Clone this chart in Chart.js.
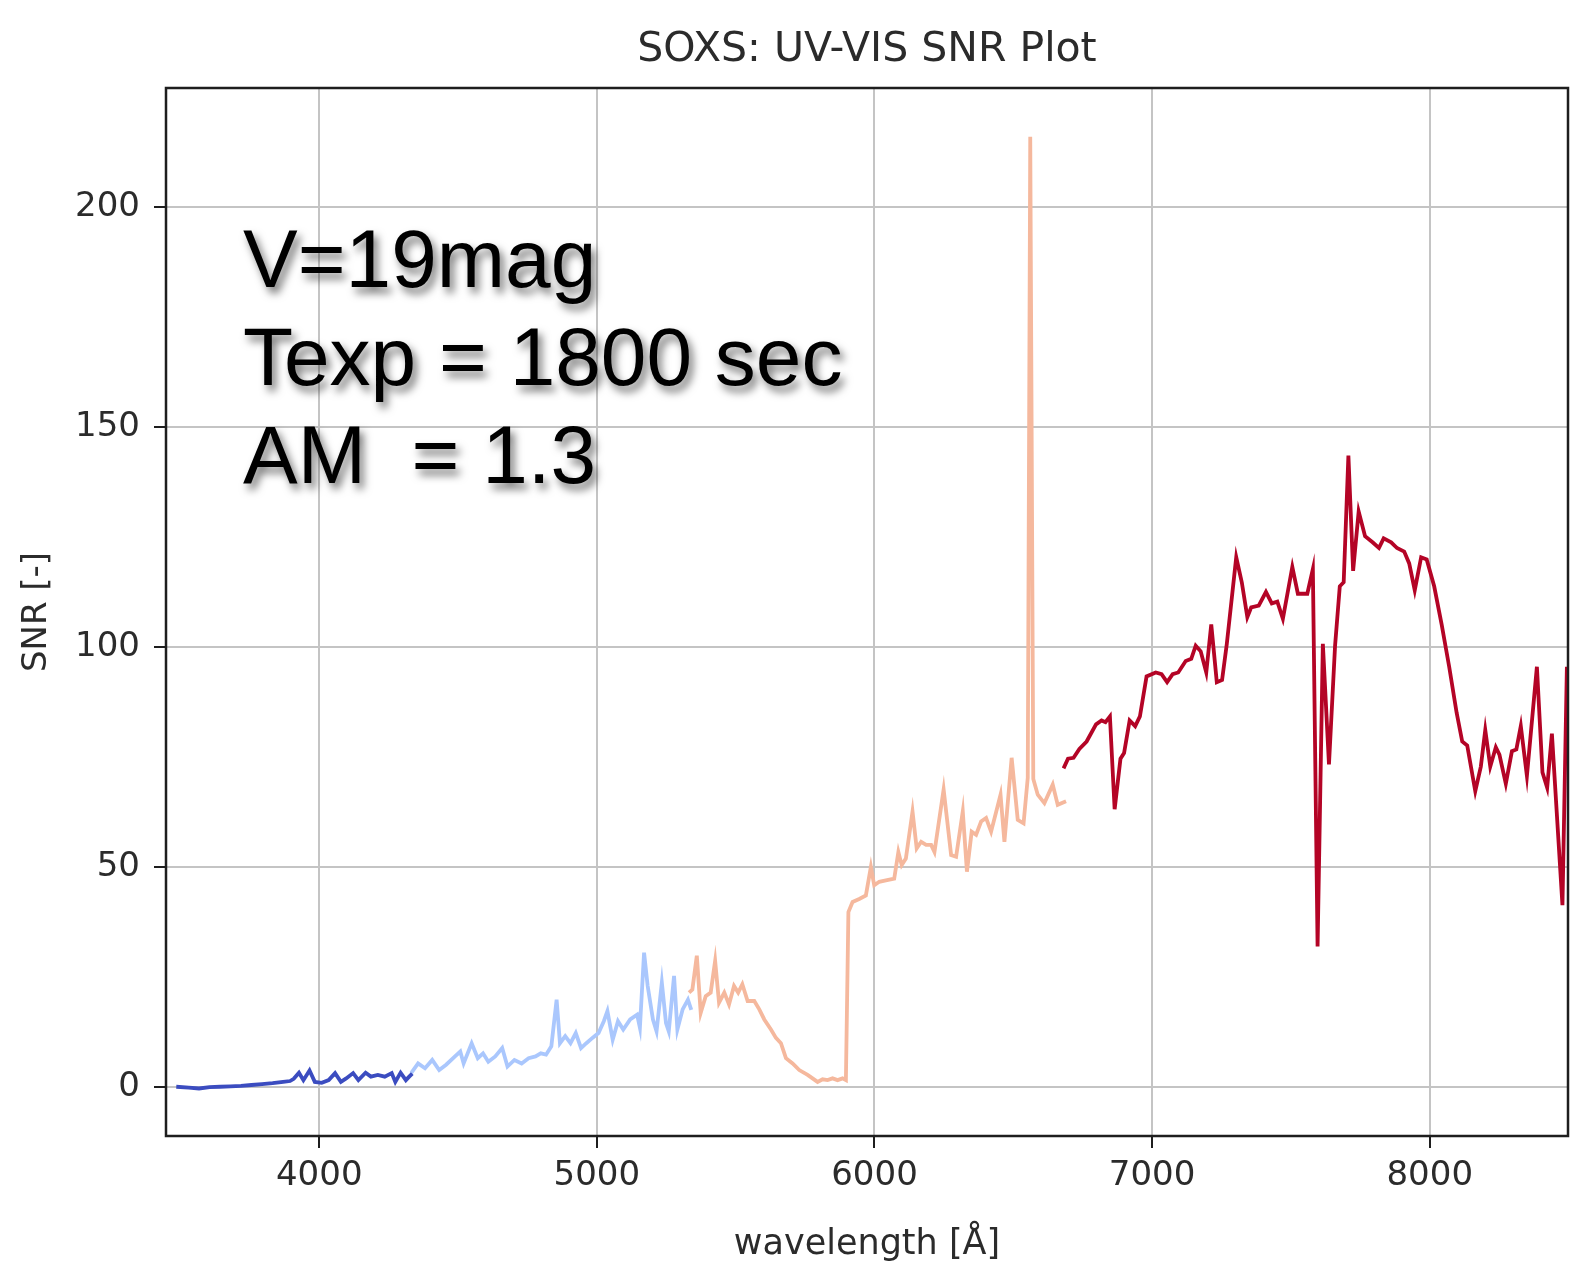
<!DOCTYPE html>
<html>
<head>
<meta charset="utf-8">
<title>SOXS: UV-VIS SNR Plot</title>
<script src="https://cdn.jsdelivr.net/npm/chart.js@4.4.1/dist/chart.umd.min.js"></script>
<style>
  html, body { margin: 0; padding: 0; background: #fff; }
</style>
</head>
<body>
<canvas id="graficoSnr" width="1588" height="1269"></canvas>
<script>
// Tramo azul oscuro (UV)
const wlAzul = [3485, 3530, 3567, 3605, 3643, 3680, 3718, 3756, 3794, 3832, 3870, 3895, 3908, 3927, 3943, 3965, 3984, 4009, 4034, 4057, 4078, 4097, 4122, 4141, 4167, 4186, 4211, 4236, 4261, 4274, 4293, 4312, 4324, 4335];
const snrAzul = [0, -0.2, -0.4, -0.1, 0, 0.1, 0.2, 0.4, 0.6, 0.8, 1.1, 1.3, 1.8, 3.2, 1.5, 3.7, 1.1, 0.9, 1.5, 3.1, 1.1, 1.9, 3.1, 1.5, 3.2, 2.3, 2.7, 2.3, 3.1, 1.1, 3.2, 1.5, 2.3, 3.0];

// Tramo azul claro
const wlCeleste = [4331, 4356, 4381, 4407, 4432, 4457, 4489, 4508, 4520, 4549, 4571, 4590, 4609, 4634, 4659, 4678, 4703, 4729, 4754, 4779, 4798, 4817, 4836, 4855, 4867, 4886, 4905, 4924, 4943, 4962, 4984, 5006, 5025, 5038, 5057, 5076, 5095, 5120, 5145, 5155, 5170, 5183, 5202, 5215, 5234, 5249, 5259, 5278, 5290, 5309, 5328, 5340];
const snrCeleste = [3.1, 5.3, 4.2, 6.1, 3.8, 5.0, 6.9, 8.0, 5.3, 9.9, 6.5, 7.6, 5.7, 6.9, 8.8, 4.6, 6.1, 5.3, 6.5, 6.9, 7.6, 7.3, 9.2, 19.8, 9.9, 11.5, 9.9, 12.2, 8.8, 9.9, 11.1, 12.2, 14.9, 17.2, 10.7, 14.9, 13.0, 15.3, 16.4, 13.4, 30.5, 22.9, 15.3, 12.6, 23.7, 14.5, 12.6, 25.2, 13.0, 17.6, 19.8, 17.5];

// Tramo salmón (VIS azul)
const wlSalmon = [5332, 5344, 5360, 5374, 5392, 5410, 5426, 5440, 5459, 5476, 5494, 5509, 5524, 5543, 5567, 5585, 5603, 5627, 5645, 5663, 5681, 5705, 5729, 5759, 5795, 5813, 5831, 5849, 5867, 5885, 5897, 5906, 5921, 5945, 5969, 5987, 5999, 6017, 6041, 6071, 6086, 6098, 6113, 6137, 6152, 6168, 6186, 6204, 6216, 6249, 6276, 6294, 6318, 6333, 6350, 6366, 6384, 6402, 6420, 6454, 6468, 6494, 6516, 6537, 6552, 6561, 6572, 6588, 6612, 6642, 6660, 6690];
const snrSalmon = [21.4, 22.1, 29.8, 16.8, 20.6, 21.4, 28.6, 19.1, 21.4, 18.7, 22.9, 21.4, 23.3, 19.5, 19.5, 17.6, 15.3, 13.0, 11.1, 9.9, 6.5, 5.3, 3.8, 2.7, 1.1, 1.7, 1.5, 1.9, 1.5, 1.9, 1.5, 39.7, 42.0, 42.7, 43.5, 50.0, 45.8, 46.6, 46.9, 47.3, 53.4, 50.4, 51.9, 62.6, 54.2, 55.7, 55.0, 55.0, 53.4, 67.6, 52.7, 52.3, 62.6, 48.9, 58.0, 57.3, 60.3, 61.1, 58.0, 66.4, 55.7, 74.8, 60.7, 59.9, 70.2, 216, 70, 66.4, 64.5, 68.7, 64.1, 64.9];

// Tramo rojo (VIS rojo)
const wlRojo = [6681, 6697, 6717, 6738, 6764, 6798, 6818, 6832, 6848, 6865, 6886, 6899, 6919, 6939, 6956, 6980, 7013, 7034, 7054, 7074, 7094, 7121, 7141, 7157, 7175, 7195, 7213, 7233, 7252, 7269, 7303, 7323, 7343, 7357, 7384, 7410, 7431, 7451, 7471, 7505, 7525, 7559, 7579, 7596, 7615, 7637, 7659, 7676, 7690, 7707, 7724, 7744, 7767, 7794, 7817, 7834, 7861, 7882, 7908, 7926, 7946, 7969, 7989, 8016, 8043, 8070, 8097, 8117, 8135, 8164, 8184, 8200, 8218, 8238, 8251, 8274, 8296, 8312, 8328, 8350, 8386, 8406, 8423, 8440, 8478, 8494];
const snrRojo = [72.4, 74.6, 74.8, 76.8, 78.5, 82.4, 83.3, 82.9, 84.2, 63.1, 74.6, 75.9, 83.3, 82.0, 84.2, 93.3, 94.2, 93.8, 92.0, 93.8, 94.2, 96.8, 97.3, 100.3, 99.0, 94.2, 105.1, 92.0, 92.5, 100.7, 120.4, 114.7, 106.8, 109.0, 109.4, 112.5, 109.9, 110.3, 106.4, 118.2, 112.1, 112.1, 117.7, 31.9, 100.7, 73.3, 100.3, 113.8, 114.7, 143.5, 117.3, 130.8, 125.2, 123.8, 122.5, 124.7, 123.8, 122.5, 121.7, 119.0, 112.9, 120.4, 119.9, 113.8, 105.1, 95.5, 85.0, 78.5, 77.6, 67.2, 72.8, 81.1, 72.8, 77.2, 75.5, 68.9, 76.3, 76.7, 82.0, 70.7, 95.5, 71.5, 68.0, 80.3, 41.3, 95.5];

// Marcas de los ejes
const ticksX = [4000, 5000, 6000, 7000, 8000];
const ticksY = [0, 50, 100, 150, 200];

// Texto superpuesto
const notas = ["V=19mag", "Texp = 1800 sec", "AM  = 1.3"];

const fuente = "'DejaVu Sans', sans-serif";
const colorTexto = "#2b2b2b";

function puntos(xs, ys) {
    return xs.map((x, i) => ({ x: x, y: ys[i] }));
}

function serie(xs, ys, color, ancho) {
    return {
        data: puntos(xs, ys),
        borderColor: color,
        borderWidth: ancho,
        pointRadius: 0,
        tension: 0,
        fill: false,
    };
}

// Marco negro alrededor del área (como los "spines" de matplotlib)
const marco = {
    id: "marco",
    afterDatasetsDraw(chart) {
        const { ctx, chartArea: a } = chart;
        ctx.save();
        ctx.strokeStyle = "#1e1e1e";
        ctx.lineWidth = 2.5;
        ctx.strokeRect(a.left, a.top, a.right - a.left, a.bottom - a.top);
        ctx.restore();
    },
};

// Anotaciones grandes con sombra
const anotaciones = {
    id: "anotaciones",
    afterDraw(chart) {
        const ctx = chart.ctx;
        ctx.save();
        ctx.font = "82px 'Liberation Sans', Arial, sans-serif";
        ctx.fillStyle = "#000";
        ctx.textBaseline = "alphabetic";
        ctx.shadowColor = "rgba(0, 0, 0, 0.55)";
        ctx.shadowBlur = 9;
        ctx.shadowOffsetX = 4;
        ctx.shadowOffsetY = 6;
        notas.forEach((t, i) => {
            ctx.fillText(t, 243, 287 + i * 98);
        });
        ctx.restore();
    },
};

const ctx = document.getElementById("graficoSnr").getContext("2d");
const grafico = new Chart(ctx, {
    type: "line",
    data: {
        datasets: [
            serie(wlAzul, snrAzul, "#3b4cc0", 3.8),
            serie(wlCeleste, snrCeleste, "#aac7fd", 3.8),
            serie(wlSalmon, snrSalmon, "#f5b89d", 3.8),
            serie(wlRojo, snrRojo, "#b40426", 3.8),
        ],
    },
    options: {
        responsive: false,
        animation: false,
        devicePixelRatio: 1,
        layout: { padding: { left: 0, right: 20, top: 0, bottom: 0 } },
        plugins: {
            legend: { display: false },
            tooltip: { enabled: false },
            title: {
                display: true,
                fullSize: false,
                text: "SOXS: UV-VIS SNR Plot",
                color: colorTexto,
                font: { family: fuente, size: 41, weight: "normal" },
                padding: { top: 25.5, bottom: 13.3 },
            },
        },
        scales: {
            x: {
                type: "linear",
                min: 3448,
                max: 8498,
                afterBuildTicks: (s) => { s.ticks = ticksX.map((v) => ({ value: v })); },
                afterFit: (s) => { s.height = 133; },
                ticks: {
                    color: colorTexto,
                    font: { family: fuente, size: 34 },
                    padding: 8,
                    maxRotation: 0,
                    callback: (v) => String(v),
                },
                grid: {
                    color: "#c4c4c4",
                    lineWidth: 2,
                    tickLength: 12,
                    tickColor: "#1e1e1e",
                    tickWidth: 2,
                },
                border: { display: false },
                title: {
                    display: true,
                    text: "wavelength [Å]",
                    color: colorTexto,
                    font: { family: fuente, size: 35 },
                    padding: { top: 0, bottom: 3.4 },
                },
            },
            y: {
                type: "linear",
                min: -11.2,
                max: 227.1,
                afterBuildTicks: (s) => { s.ticks = ticksY.map((v) => ({ value: v })); },
                afterFit: (s) => { s.width = 166; },
                ticks: {
                    color: colorTexto,
                    font: { family: fuente, size: 34 },
                    padding: 14,
                    callback: (v) => String(v),
                },
                grid: {
                    color: "#c4c4c4",
                    lineWidth: 2,
                    tickLength: 12,
                    tickColor: "#1e1e1e",
                    tickWidth: 2,
                },
                border: { display: false },
                title: {
                    display: true,
                    text: "SNR [-]",
                    color: colorTexto,
                    font: { family: fuente, size: 34 },
                    padding: { top: 17, bottom: 0 },
                },
            },
        },
    },
    plugins: [marco, anotaciones],
});
</script>
</body>
</html>
